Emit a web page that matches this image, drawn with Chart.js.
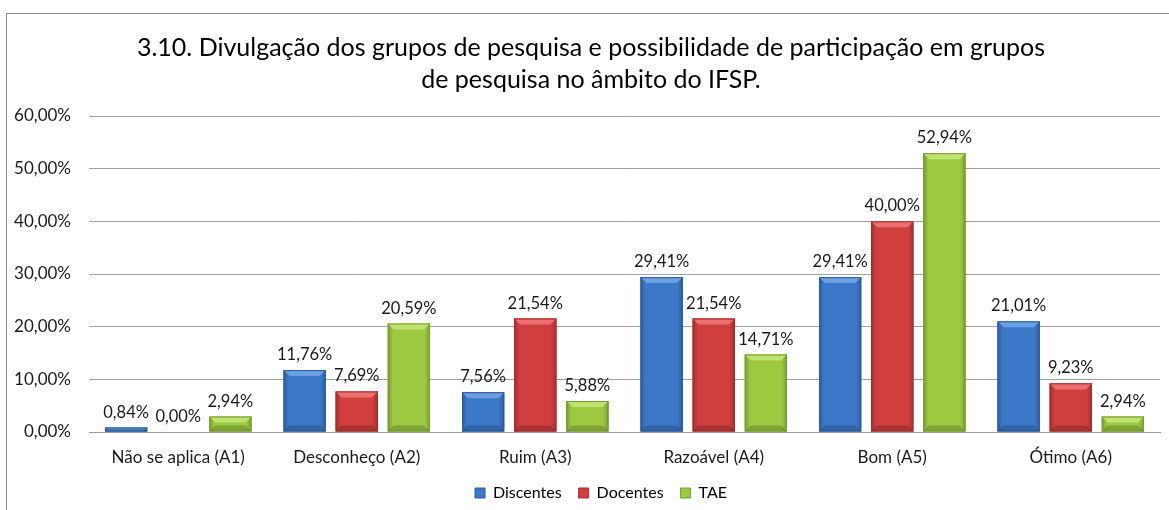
<!DOCTYPE html>
<html>
<head>
<meta charset="utf-8">
<script src="https://cdn.jsdelivr.net/npm/chart.js@4.4.0/dist/chart.umd.min.js"></script>
<style>
  html, body { margin: 0; padding: 0; background: #fff; overflow: hidden; }
  #box {
    position: absolute; left: 6px; top: 13px;
    width: 1188px; height: 530px;
    border: 1px solid #8c8c8c;
  }
</style>
</head>
<body>
<div id="box"><canvas id="grafico"></canvas></div>
<script>
const categorias = ["Não se aplica (A1)", "Desconheço (A2)", "Ruim (A3)", "Razoável (A4)", "Bom (A5)", "Ótimo (A6)"];
const discentes = [0.84, 11.76, 7.56, 29.41, 29.41, 21.01];
const docentes = [0.00, 7.69, 21.54, 21.54, 40.00, 9.23];
const tae = [2.94, 20.59, 5.88, 14.71, 52.94, 2.94];
const ticksY = [0, 10, 20, 30, 40, 50, 60];

const fonte = "Lato, 'Open Sans', sans-serif";

function fmt(v) {
    return v.toFixed(2).replace('.', ',') + '%';
}

// efeito de relevo nas barras (tipo Excel)
const cores = [
    { base: '#3b78c8', claro: '#6c9fe2', escuro: '#2a5c9e' },
    { base: '#d03e3e', claro: '#ec7070', escuro: '#a32e2e' },
    { base: '#9cc842', claro: '#bfe36f', escuro: '#779c30' }
];

const relevo = {
    id: 'relevo',
    afterDatasetsDraw(chart) {
        const ctx = chart.ctx;
        chart.data.datasets.forEach((ds, i) => {
            const meta = chart.getDatasetMeta(i);
            const c = cores[i];
            meta.data.forEach(bar => {
                const w = bar.width;
                const h = bar.base - bar.y;
                if (h <= 0.5) return;
                const l = bar.x - w / 2;
                const r = bar.x + w / 2;
                const t = bar.y;
                const b = bar.base;
                ctx.save();
                const g = ctx.createLinearGradient(l, 0, r, 0);
                g.addColorStop(0, c.escuro);
                g.addColorStop(0.12, c.base);
                g.addColorStop(0.5, c.base);
                g.addColorStop(0.88, c.base);
                g.addColorStop(1, c.escuro);
                ctx.fillStyle = g;
                ctx.fillRect(l, t, w, h);
                const bv = Math.min(6, h / 2);
                ctx.fillStyle = c.claro;
                ctx.beginPath();
                ctx.moveTo(l, t);
                ctx.lineTo(r, t);
                ctx.lineTo(r - bv, t + bv);
                ctx.lineTo(l + bv, t + bv);
                ctx.closePath();
                ctx.fill();
                ctx.fillStyle = 'rgba(0,0,0,0.18)';
                ctx.beginPath();
                ctx.moveTo(l, b);
                ctx.lineTo(r, b);
                ctx.lineTo(r - bv, b - bv);
                ctx.lineTo(l + bv, b - bv);
                ctx.closePath();
                ctx.fill();
                ctx.strokeStyle = c.escuro;
                ctx.lineWidth = 1;
                ctx.strokeRect(l + 0.5, t + 0.5, w - 1, h - 1);
                ctx.restore();
            });
        });
    }
};

const rotulos = {
    id: 'rotulos',
    afterDatasetsDraw(chart) {
        const ctx = chart.ctx;
        ctx.save();
        ctx.font = "16.5px " + fonte;
        ctx.fillStyle = '#1a1a1a';
        ctx.textAlign = 'center';
        ctx.textBaseline = 'alphabetic';
        chart.data.datasets.forEach((ds, i) => {
            const meta = chart.getDatasetMeta(i);
            meta.data.forEach((bar, j) => {
                ctx.fillText(fmt(ds.data[j]), bar.x, bar.y - 10);
            });
        });
        ctx.restore();
    }
};

// a legenda do Excel fica um pouco mais à direita
const ajusteLegenda = {
    id: 'ajusteLegenda',
    afterLayout(chart) {
        chart.legend.left += 10;
        chart.legend.right += 10;
    }
};

new Chart("grafico", {
    type: "bar",
    data: {
        labels: categorias,
        datasets: [
            { label: "Discentes", data: discentes, backgroundColor: cores[0].base, borderWidth: 0 },
            { label: "Docentes", data: docentes, backgroundColor: cores[1].base, borderWidth: 0 },
            { label: "TAE", data: tae, backgroundColor: cores[2].base, borderWidth: 0 }
        ]
    },
    options: {
        responsive: true,
        maintainAspectRatio: false,
        animation: false,
        devicePixelRatio: 1,
        layout: { padding: { left: 0, right: 20, top: 0, bottom: 33 } },
        datasets: { bar: { categoryPercentage: 0.876, barPercentage: 0.81 } },
        plugins: {
            tooltip: { enabled: false },
            title: {
                display: true,
                text: ["3.10. Divulgação dos grupos de pesquisa e possibilidade de participação em grupos",
                       "de pesquisa no âmbito do IFSP."],
                color: '#000',
                font: { family: fonte, size: 25, weight: 'normal', lineHeight: 1.3 },
                padding: { top: 17.5, bottom: 19.5 }
            },
            legend: {
                position: 'bottom',
                labels: {
                    color: '#1a1a1a',
                    font: { family: fonte, size: 16 },
                    boxWidth: 10,
                    boxHeight: 10,
                    padding: 17,
                    generateLabels(chart) {
                        return chart.data.datasets.map((ds, i) => ({
                            text: ds.label,
                            fillStyle: cores[i].base,
                            strokeStyle: cores[i].escuro,
                            lineWidth: 1,
                            datasetIndex: i
                        }));
                    }
                }
            }
        },
        scales: {
            x: {
                grid: { display: false, drawTicks: false },
                border: { display: true, color: '#9a9a9a' },
                ticks: { color: '#1a1a1a', font: { family: fonte, size: 17 }, padding: 15 },
                afterFit(axis) {
                    axis.height = 36;
                }
            },
            y: {
                min: 0,
                max: 60,
                afterBuildTicks(axis) {
                    axis.ticks = ticksY.map(v => ({ value: v }));
                },
                afterFit(axis) {
                    axis.width = 82;
                },
                grid: { color: '#a0a0a0', drawTicks: false },
                border: { display: false },
                ticks: {
                    color: '#1a1a1a',
                    font: { family: fonte, size: 17 },
                    padding: 18,
                    callback: v => fmt(v)
                }
            },
            // eixo vazio à direita, só para reservar a margem da área do gráfico
            margemDireita: {
                type: 'linear',
                position: 'right',
                grid: { display: false, drawTicks: false },
                border: { display: false },
                ticks: { display: false },
                afterFit(axis) {
                    axis.width = 15;
                }
            }
        }
    },
    plugins: [relevo, rotulos, ajusteLegenda]
});
</script>
</body>
</html>
